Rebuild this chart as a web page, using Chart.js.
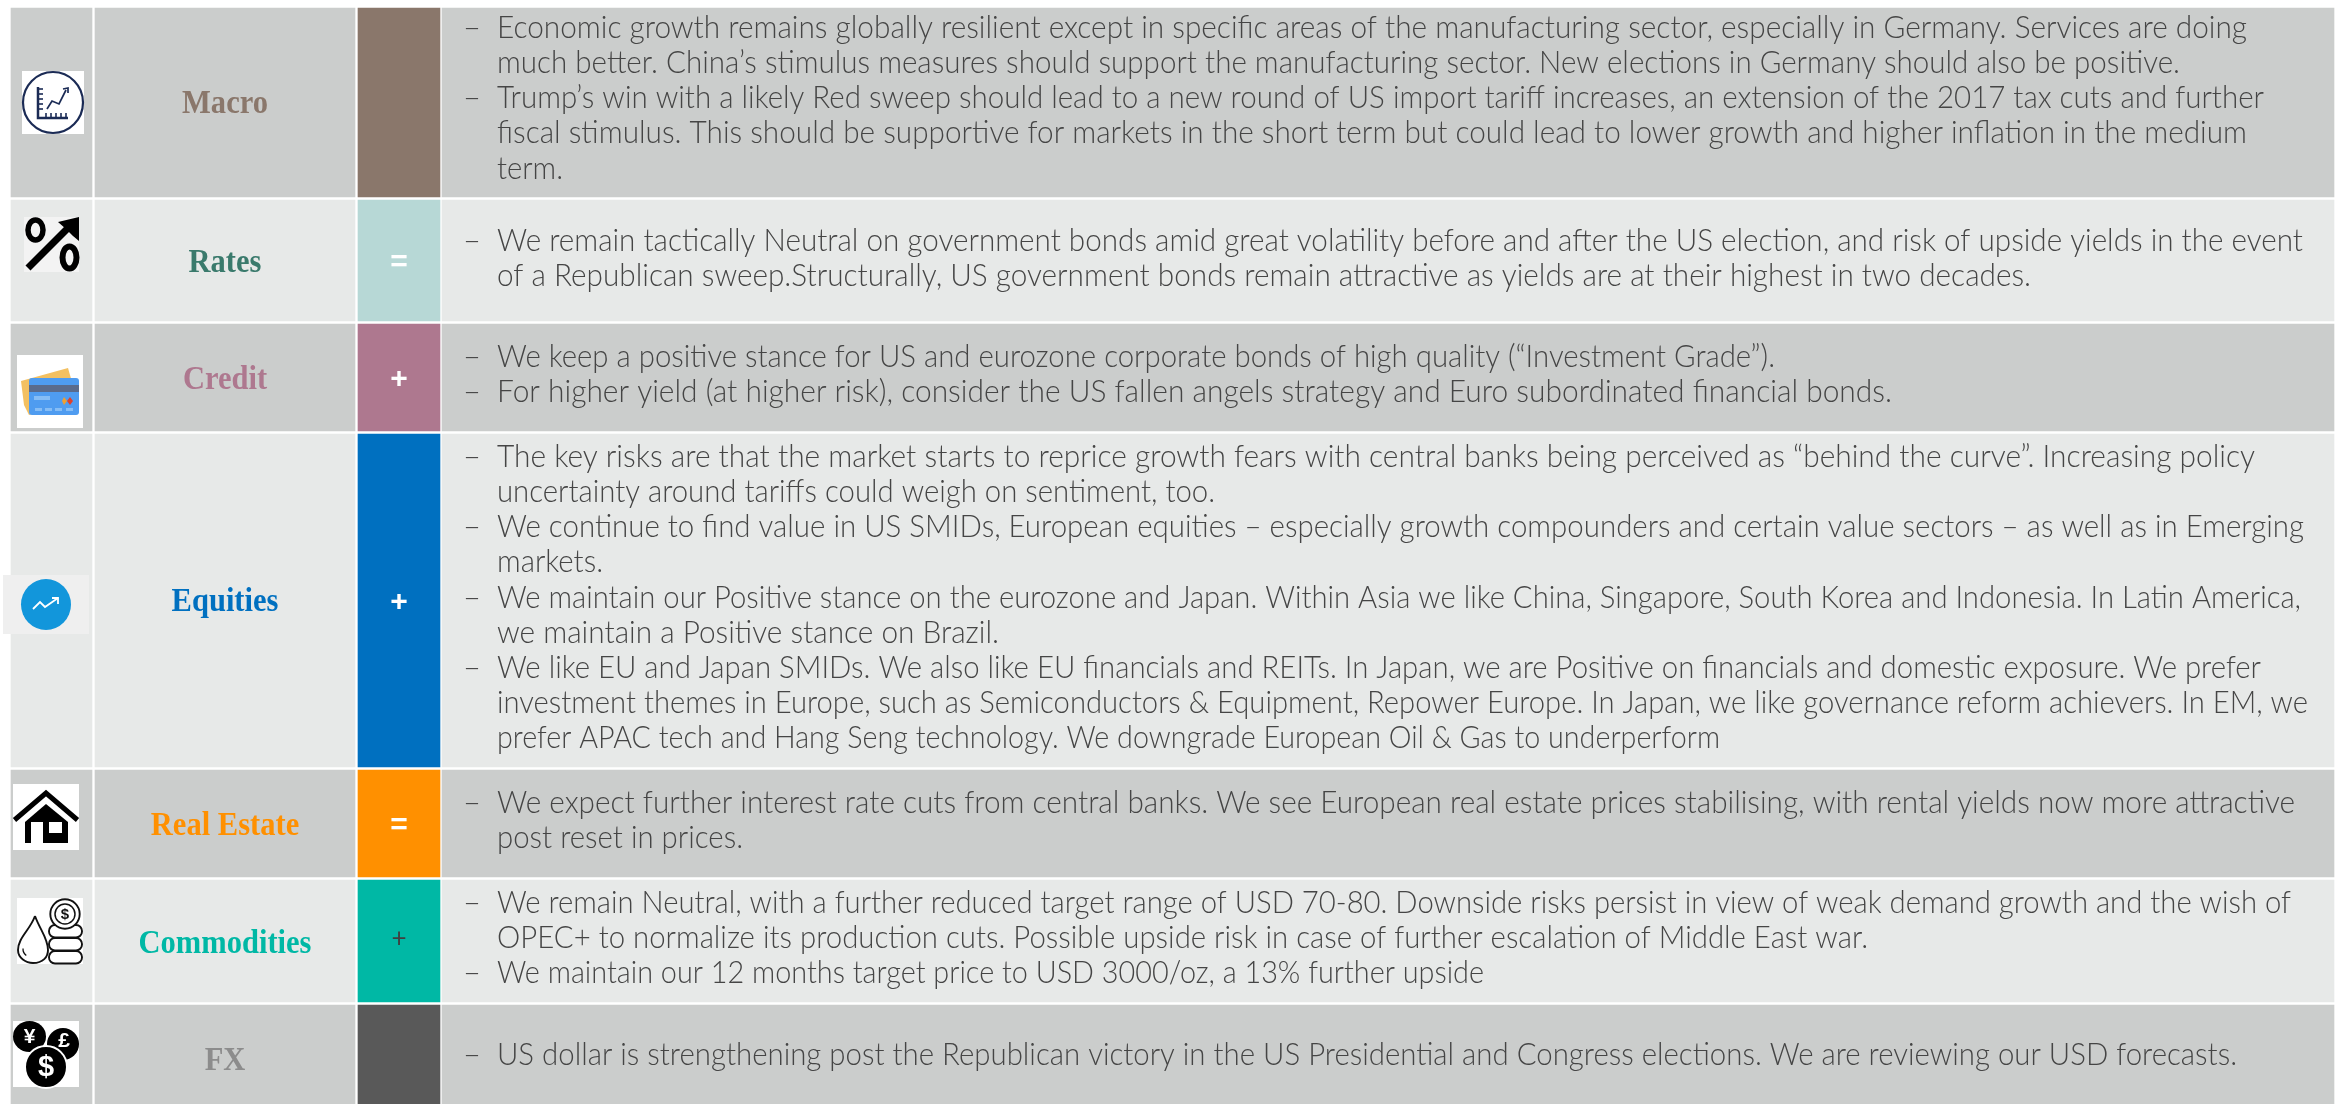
<!DOCTYPE html>
<html>
<head>
<meta charset="utf-8">
<script src="https://cdn.jsdelivr.net/npm/chart.js@4"></script>
<style>
html, body { margin: 0; padding: 0; background: #fff; overflow: hidden; }
canvas { display: block; }
</style>
</head>
<body>
<canvas id="tablo" width="2343" height="1104"></canvas>
<script>
const categories = ['Macro', 'Rates', 'Credit', 'Equities', 'Real Estate', 'Commodities', 'FX'];
const signs = ['', '=', '+', '+', '=', '+', ''];
const rowTops = [8, 200, 324, 434, 770, 880, 1005];
const rowBottoms = [197, 321, 431, 767, 877, 1002, 1104];
const columnStarts = [11, 95, 358, 442];
const columnEnds = [92, 355, 440, 2334];
const rowFills = ['#cbcdcc', '#e7e9e8', '#cbcdcc', '#e7e9e8', '#cbcdcc', '#e7e9e8', '#cbcdcc'];
const signFills = ['#8a776b', '#b7d8d6', '#ae788f', '#0070c0', '#ff9000', '#00b8a5', '#595959'];
const titleColors = ['#8a776b', '#3a7a6c', '#ae788f', '#0070c0', '#ff9000', '#00b8a5', '#8c8c8c'];
const firstBaselines = [38, 251, 367, 467, 813, 913, 1065];

// one list per row, one sub list per bullet
const comments = [
    [['Economic growth remains globally resilient except in specific areas of the manufacturing sector, especially in Germany. Services are doing',
      'much better. China’s stimulus measures should support the manufacturing sector. New elections in Germany should also be positive.'],
     ['Trump’s win with a likely Red sweep should lead to a new round of US import tariff increases, an extension of the 2017 tax cuts and further',
      'fiscal stimulus. This should be supportive for markets in the short term but could lead to lower growth and higher inflation in the medium',
      'term.']],
    [['We remain tactically Neutral on government bonds amid great volatility before and after the US election, and risk of upside yields in the event',
      'of a Republican sweep.Structurally, US government bonds remain attractive as yields are at their highest in two decades.']],
    [['We keep a positive stance for US and eurozone corporate bonds of high quality (“Investment Grade”).'],
     ['For higher yield (at higher risk), consider the US fallen angels strategy and Euro subordinated financial bonds.']],
    [['The key risks are that the market starts to reprice growth fears with central banks being perceived as “behind the curve”. Increasing policy',
      'uncertainty around tariffs could weigh on sentiment, too.'],
     ['We continue to find value in US SMIDs, European equities – especially growth compounders and certain value sectors – as well as in Emerging',
      'markets.'],
     ['We maintain our Positive stance on the eurozone and Japan. Within Asia we like China, Singapore, South Korea and Indonesia. In Latin America,',
      'we maintain a Positive stance on Brazil.'],
     ['We like EU and Japan SMIDs. We also like EU financials and REITs. In Japan, we are Positive on financials and domestic exposure. We prefer',
      'investment themes in Europe, such as Semiconductors & Equipment, Repower Europe. In Japan, we like governance reform achievers. In EM, we',
      'prefer APAC tech and Hang Seng technology. We downgrade European Oil & Gas to underperform']],
    [['We expect further interest rate cuts from central banks. We see European real estate prices stabilising, with rental yields now more attractive',
      'post reset in prices.']],
    [['We remain Neutral, with a further reduced target range of USD 70-80. Downside risks persist in view of weak demand growth and the wish of',
      'OPEC+ to normalize its production cuts. Possible upside risk in case of further escalation of Middle East war.'],
     ['We maintain our 12 months target price to USD 3000/oz, a 13% further upside']],
    [['US dollar is strengthening post the Republican victory in the US Presidential and Congress elections. We are reviewing our USD forecasts.']]
];

// right edge of every text line, same order as the lines above
const lineEnds = [
    [2247, 2180, 2264, 2247, 563],
    [2303, 2031],
    [1775, 1892],
    [2255, 1215, 2304, 603, 2301, 999, 2261, 2308, 1720],
    [2295, 743],
    [2291, 1868, 1484],
    [2237]
];

const BODY_FONT = '300 31px Lato, sans-serif';
const TEXT_LEFT = 497;
const LINE_PITCH = 35.15;
const TITLE_DROP = [10, 11, 11, 10, 11, 12, 15];

function stretched(ctx, text, x, y, sx) {
    ctx.save();
    ctx.translate(x, y);
    ctx.scale(sx, 1);
    ctx.fillText(text, 0, 0);
    ctx.restore();
}

function drawCells(ctx, chart) {
    const px = chart.scales.x, py = chart.scales.y;
    categories.forEach(function (name, i) {
        const cy = py.getPixelForValue((rowTops[i] + rowBottoms[i]) / 2);
        const cx = px.getPixelForValue((columnStarts[1] + columnEnds[1]) / 2);
        const sx2 = px.getPixelForValue((columnStarts[2] + columnEnds[2]) / 2);

        ctx.textBaseline = 'alphabetic';
        ctx.textAlign = 'center';
        ctx.font = 'bold 33px "Liberation Serif", serif';
        ctx.fillStyle = titleColors[i];
        stretched(ctx, name, cx, cy + TITLE_DROP[i], 0.925);

        if (signs[i]) {
            if (name === 'Commodities') {
                ctx.font = '400 26px Lato, sans-serif';
                ctx.fillStyle = '#404040';
                ctx.fillText(signs[i], sx2, cy + 6);
            } else {
                ctx.font = 'bold 30px "Liberation Sans", sans-serif';
                ctx.fillStyle = '#ffffff';
                ctx.fillText(signs[i], sx2, cy + 10);
            }
        }

        ctx.textAlign = 'left';
        ctx.font = BODY_FONT;
        ctx.fillStyle = '#454545';
        let y = firstBaselines[i];
        let n = 0;
        comments[i].forEach(function (bullet) {
            ctx.fillText('–', 463, y);
            bullet.forEach(function (line) {
                const fit = (lineEnds[i][n] - TEXT_LEFT) / ctx.measureText(line).width;
                stretched(ctx, line, TEXT_LEFT, y, fit);
                y += LINE_PITCH;
                n++;
            });
        });
    });
}

function ring(ctx, x, y, rx, ry, stroke, width, fill) {
    ctx.beginPath();
    ctx.ellipse(x, y, rx, ry, 0, 0, Math.PI * 2);
    if (fill) { ctx.fillStyle = fill; ctx.fill(); }
    if (stroke) { ctx.strokeStyle = stroke; ctx.lineWidth = width; ctx.stroke(); }
}

function poly(ctx, pts, stroke, width, fill) {
    ctx.beginPath();
    pts.forEach(function (p, i) { i ? ctx.lineTo(p[0], p[1]) : ctx.moveTo(p[0], p[1]); });
    if (fill) { ctx.closePath(); ctx.fillStyle = fill; ctx.fill(); }
    if (stroke) { ctx.strokeStyle = stroke; ctx.lineWidth = width; ctx.stroke(); }
}

function drawIcons(ctx) {
    ctx.textAlign = 'center';
    ctx.textBaseline = 'middle';

    // macro
    const navy = '#1b2b55';
    ctx.fillStyle = '#fff';
    ctx.fillRect(22, 71, 62, 63);
    ring(ctx, 53, 102.5, 30, 30.5, navy, 2.2);
    poly(ctx, [[38, 87], [38, 118], [68, 118]], navy, 2.5);
    [89, 94, 99, 104, 109].forEach(function (y) { poly(ctx, [[38, y], [43, y]], navy, 1.6); });
    [46, 51, 56, 61, 66].forEach(function (x) { poly(ctx, [[x, 118], [x, 113]], navy, 1.6); });
    poly(ctx, [[47, 109], [52, 101], [59, 104], [66, 90]], navy, 1.7);
    poly(ctx, [[63, 89], [68, 88], [68, 93]], navy, 1.7);

    // rates
    ctx.fillStyle = '#f3f3f3';
    ctx.fillRect(24, 217, 55, 55);
    ring(ctx, 35.5, 230, 7.5, 10, '#000', 5.5);
    ring(ctx, 69.5, 257.5, 7, 11, '#000', 6);
    poly(ctx, [[28, 268], [68, 228]], '#000', 7);
    poly(ctx, [[79, 217], [58, 222], [66, 229], [73, 236], [79, 241]], null, 0, '#000');

    // credit
    ctx.fillStyle = '#fff';
    ctx.fillRect(17, 355, 66, 73);
    poly(ctx, [[21, 381], [68, 368], [72, 382], [72, 405], [29, 415], [24, 405]], null, 0, '#f3c061');
    ctx.beginPath();
    ctx.roundRect(29, 378, 50, 37, 3);
    ctx.fillStyle = '#4f9cf0';
    ctx.fill();
    ctx.fillStyle = '#5a6b8c';
    ctx.fillRect(29, 385, 50, 7);
    ctx.fillStyle = '#86bdf5';
    ctx.fillRect(34, 396, 16, 4);
    [35, 45, 55, 66].forEach(function (x) { ctx.fillRect(x, 408, 7, 3); });
    poly(ctx, [[64, 397], [67, 401], [64, 405], [62, 401]], null, 0, '#f0a030');
    poly(ctx, [[70, 397], [73, 401], [70, 405], [67, 401]], null, 0, '#e0402a');

    // equities
    ctx.fillStyle = '#efefef';
    ctx.fillRect(3, 575, 86, 59);
    ring(ctx, 46, 604.5, 25, 25.5, null, 0, '#1296db');
    poly(ctx, [[33, 609], [40, 602], [45, 607], [58, 598]], '#fff', 1.8);
    poly(ctx, [[52, 598], [58, 598], [58, 604]], '#fff', 1.8);

    // real estate
    ctx.fillStyle = '#fff';
    ctx.fillRect(13, 784, 66, 66);
    poly(ctx, [[14.5, 820], [46, 793], [77.5, 820]], '#000', 5);
    poly(ctx, [[25, 822], [46, 804], [68, 822], [68, 843], [25, 843]], null, 0, '#000');
    ctx.fillStyle = '#fff';
    ctx.fillRect(31, 822, 12, 21);
    ctx.fillRect(49, 822, 13, 11);

    // commodities
    ctx.fillStyle = '#fff';
    ctx.fillRect(17, 898, 66, 66);
    ctx.beginPath();
    ctx.moveTo(35, 916);
    ctx.bezierCurveTo(30, 930, 18, 938, 18, 950);
    ctx.bezierCurveTo(18, 958, 26, 963, 33, 963);
    ctx.bezierCurveTo(43, 963, 48, 957, 48, 950);
    ctx.bezierCurveTo(48, 938, 40, 930, 35, 916);
    ctx.strokeStyle = '#111';
    ctx.lineWidth = 1.9;
    ctx.stroke();
    ctx.beginPath();
    ctx.arc(31, 949, 8, 2.2, 3.2);
    ctx.lineWidth = 1.3;
    ctx.stroke();
    [951, 938, 925].forEach(function (y) {
        ctx.beginPath();
        ctx.roundRect(49, y, 33, 12.5, 6);
        ctx.fillStyle = '#fff';
        ctx.fill();
        ctx.strokeStyle = '#111';
        ctx.lineWidth = 1.9;
        ctx.stroke();
    });
    ring(ctx, 65, 914, 14.7, 14.7, '#111', 1.9, '#fff');
    ring(ctx, 65, 914, 10, 10, '#111', 1.5);
    ctx.fillStyle = '#111';
    ctx.font = 'bold 15px "Liberation Sans", sans-serif';
    ctx.fillText('$', 65, 915);

    // fx
    ctx.fillStyle = '#fff';
    ctx.fillRect(13, 1021, 66, 66);
    ring(ctx, 29.5, 1036.5, 16.5, 15.5, null, 0, '#000');
    ring(ctx, 63, 1044, 16, 16, null, 0, '#000');
    ring(ctx, 46, 1067, 21, 21, '#fff', 2, '#000');
    ctx.fillStyle = '#fff';
    ctx.font = 'bold 21px "Liberation Sans", sans-serif';
    ctx.fillText('¥', 29.5, 1037);
    ctx.fillText('£', 64, 1041);
    ctx.font = 'bold 29px "Liberation Sans", sans-serif';
    ctx.fillText('$', 46, 1068);
}

const tablePlugin = {
    id: 'tablePlugin',
    afterDatasetsDraw: function (chart) {
        const ctx = chart.ctx;
        ctx.save();
        drawIcons(ctx);
        drawCells(ctx, chart);
        ctx.restore();
    }
};

// one dataset per row, each cell is a floating bar
const datasets = categories.map(function (name, i) {
    return {
        label: name,
        data: columnStarts.map(function (start, c) {
            return { x: [start, columnEnds[c]], y: (rowTops[i] + rowBottoms[i]) / 2 };
        }),
        backgroundColor: [rowFills[i], rowFills[i], signFills[i], rowFills[i]],
        barThickness: rowBottoms[i] - rowTops[i],
        grouped: false,
        borderWidth: 0
    };
});

const chart = new Chart(document.getElementById('tablo').getContext('2d'), {
    type: 'bar',
    data: { datasets: datasets },
    plugins: [tablePlugin],
    options: {
        indexAxis: 'y',
        responsive: false,
        animation: false,
        layout: { padding: 0 },
        plugins: { legend: { display: false }, tooltip: { enabled: false } },
        scales: {
            x: { type: 'linear', min: 0, max: 2343, display: false },
            y: { type: 'linear', min: 0, max: 1104, reverse: true, offset: false, display: false }
        }
    }
});
</script>
</body>
</html>
